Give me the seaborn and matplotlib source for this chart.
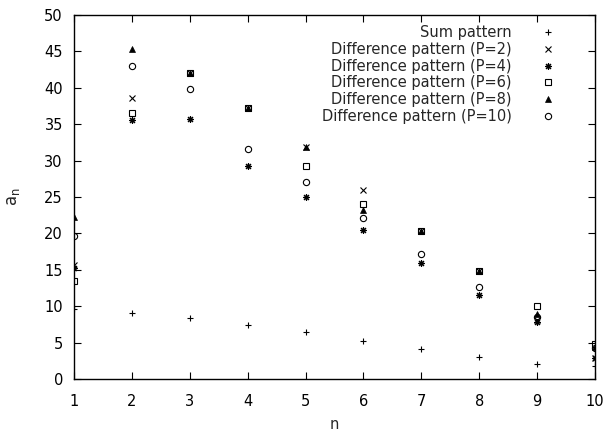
import matplotlib
matplotlib.use("Agg")
import matplotlib.pyplot as plt
import seaborn as sns
import pandas as pd

n = [1, 2, 3, 4, 5, 6, 7, 8, 9, 10]
sum_pattern = [9.6, 9.0, 8.4, 7.4, 6.4, 5.2, 4.1, 3.0, 2.0, 1.8]
diff_p2 = [15.7, 38.6, 42.0, 37.2, 31.8, 26.0, 20.3, 14.9, 8.1, 2.9]
diff_p4 = [15.3, 35.6, 35.7, 29.2, 25.0, 20.5, 15.9, 11.6, 7.8, 2.9]
diff_p6 = [13.4, 36.6, 42.0, 37.2, 29.3, 24.0, 20.3, 14.9, 10.0, 4.8]
diff_p8 = [22.2, 45.3, 42.1, 37.2, 31.8, 23.2, 20.3, 14.9, 8.9, 4.4]
diff_p10 = [19.7, 43.0, 39.9, 31.6, 27.0, 22.1, 17.2, 12.6, 8.5, 4.2]

labels = ["Sum pattern", "Difference pattern (P=2)", "Difference pattern (P=4)",
          "Difference pattern (P=6)", "Difference pattern (P=8)", "Difference pattern (P=10)"]
series = [sum_pattern, diff_p2, diff_p4, diff_p6, diff_p8, diff_p10]

sns.set_style("ticks")
plt.rcParams['font.family'] = ['DejaVu Sans']
plt.rcParams['font.size'] = 10.5
plt.rcParams['mathtext.default'] = 'regular'

fig = plt.figure(figsize=(6.05, 4.32), dpi=100)
ax = fig.add_axes([74/605, 1-379/432, (595-74)/605, (379-15)/432])

styles = [
    dict(marker='+', markersize=5, markeredgewidth=0.8),
    dict(marker='x', markersize=4.5, markeredgewidth=0.8),
    dict(marker=(8, 2, 0), markersize=5, markeredgewidth=0.8),
    dict(marker='s', markersize=4.5, markerfacecolor='none', markeredgewidth=0.8),
    dict(marker='^', markersize=4, markeredgewidth=0.5),
    dict(marker='o', markersize=4.5, markerfacecolor='none', markeredgewidth=0.8),
]

for lab, vals, st in zip(labels, series, styles):
    df = pd.DataFrame({"n": n, "a": vals})
    sns.lineplot(data=df, x="n", y="a", ax=ax, color='black', linestyle='',
                 label=lab, markeredgecolor='black', **st)

ax.set_xlim(1, 10)
ax.set_ylim(0, 50)
ax.set_xticks(range(1, 11))
ax.set_yticks(range(0, 51, 5))
ax.tick_params(direction='in', length=5, width=0.8, top=True, right=True,
               labelsize=10.5, colors='black')
ax.tick_params(axis='x', pad=11)
ax.tick_params(axis='y', pad=8)
for s in ax.spines.values():
    s.set_visible(True)
    s.set_linewidth(1.0)
    s.set_color('black')
ax.set_xlabel("n", fontsize=10.5)
ax.set_ylabel(r"$a_n$", fontsize=12)
ax.xaxis.set_label_coords(0.5, -0.105)
ax.yaxis.set_label_coords(-0.1, 0.5)

leg = ax.legend(loc='upper right', frameon=False, markerfirst=False,
                fontsize=10.5, handlelength=2.0, handletextpad=1.5,
                labelspacing=0.12, borderaxespad=0.3, alignment='right',
                bbox_to_anchor=(0.958, 1.0))

fig.savefig("out.png", dpi=100)
